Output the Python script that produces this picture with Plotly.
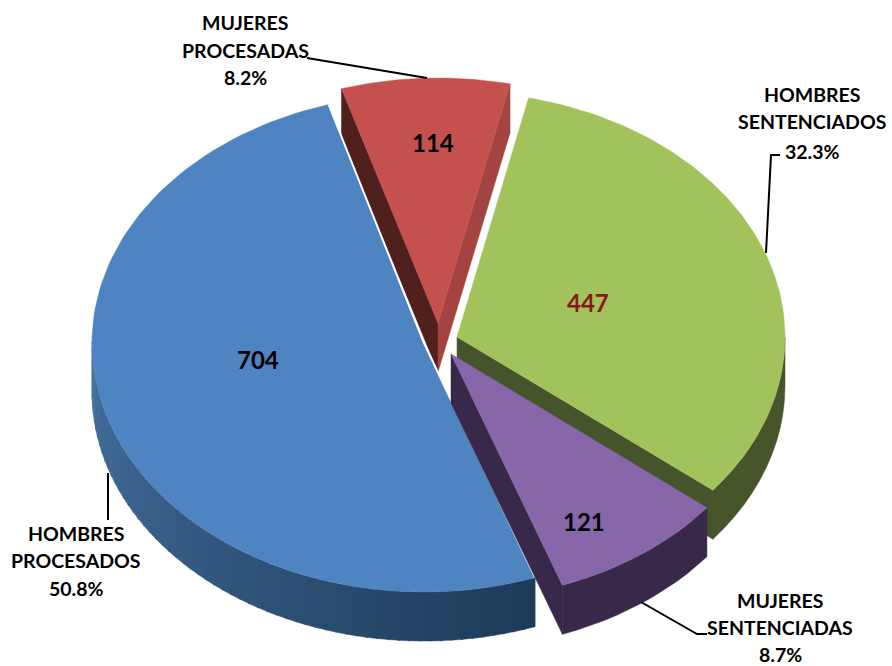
import math
import plotly.graph_objects as go

# --- data ---
categories = ["HOMBRES PROCESADOS", "MUJERES PROCESADAS", "HOMBRES SENTENCIADOS", "MUJERES SENTENCIADAS"]
values = [704, 114, 447, 121]
percent_labels = ["50.8%", "8.2%", "32.3%", "8.7%"]

# --- drawing style (pixel layout of the 3D-look exploded pie) ---
W, H = 892, 666
DEPTH = 49
START_BEARING = -17.0  # clockwise from "up": where the blue slice ends / red begins
face_colors = ["#4f84c3", "#c5514f", "#a2c35b", "#8866aa"]
centers = [(424, 343), (438, 323), (457, 337), (451, 354)]
radii = [(332, 249), (330, 245), (328, 245), (328, 246)]
bearing_shift = [0.3, 0.0, 0.0, 0.0]
draw_order = [2, 1, 0, 3]
value_pos = [(258, 359), (433, 142), (588, 302), (584, 521)]
value_color = ["#000000", "#000000", "#861a16", "#000000"]

total = sum(values)
order_cw = [1, 2, 3, 0]
spans = {}
b = START_BEARING
for i in order_cw:
    d = 360.0 * values[i] / total
    spans[i] = (b, b + d)
    b += d


def pt(i, phi, dz=0):
    cx, cy = centers[i]
    rx, ry = radii[i]
    a = math.radians(phi + bearing_shift[i])
    return cx + rx * math.sin(a), cy - ry * math.cos(a) + dz


def arc(i, p0, p1, dz=0, n=60):
    return [pt(i, p0 + (p1 - p0) * k / n, dz) for k in range(n + 1)]


fig = go.Figure()


def poly(points, color, name=""):
    xs = [p[0] for p in points] + [points[0][0]]
    ys = [p[1] for p in points] + [points[0][1]]
    fig.add_trace(go.Scatter(
        x=xs, y=ys, mode="lines", fill="toself", fillcolor=color,
        line=dict(color=color, width=0.5),
        hoverinfo="text", text=name, showlegend=False))


def mix(c0, c1, t):
    a = [int(c0[j:j + 2], 16) for j in (1, 3, 5)]
    c = [int(c1[j:j + 2], 16) for j in (1, 3, 5)]
    return "#%02x%02x%02x" % tuple(round(a[k] + (c[k] - a[k]) * t) for k in range(3))


def radial_wall(i, phi, color):
    c = centers[i]
    e = pt(i, phi)
    poly([c, (c[0], c[1] + DEPTH), (e[0], e[1] + DEPTH), e], color, name=categories[i])


def arc_wall(i, p0, p1, c0, c1, strips=1):
    for s in range(strips):
        a0 = p0 + (p1 - p0) * s / strips
        a1 = p0 + (p1 - p0) * (s + 1) / strips + (0.3 if s < strips - 1 else 0)
        top = arc(i, a0, a1, 0, 12)
        bot = arc(i, a0, a1, DEPTH, 12)
        col = mix(c0, c1, (s + 0.5) / strips)
        poly(top + bot[::-1], col, name=categories[i])


for i in draw_order:
    p0, p1 = spans[i]
    c = centers[i]
    if i == 2:  # green
        arc_wall(i, 90, p1, "#46552a", "#46552a")
        radial_wall(i, p1, "#45542a")
    elif i == 1:  # red
        radial_wall(i, p0, "#4f201e")
        radial_wall(i, p1, "#a44442")
    elif i == 0:  # blue
        arc_wall(i, p0, 270, "#1c3a58", "#45709f", strips=60)
    elif i == 3:  # purple
        radial_wall(i, p1, "#38294a")
        arc_wall(i, p0, p1, "#38294a", "#38294a")
    face = [c] + arc(i, p0, p1, 0, 120)
    poly(face, face_colors[i], name=f"{categories[i]}: {values[i]} ({percent_labels[i]})")
    if i == 0:  # white seam along the straight edges of the blue slice
        e0, e1 = pt(i, p0), pt(i, p1)
        fig.add_trace(go.Scatter(x=[e0[0], c[0], e1[0]], y=[e0[1], c[1], e1[1]], mode="lines",
                                 line=dict(color="#ffffff", width=2), hoverinfo="skip", showlegend=False))

# leader lines
leaders = [
    [(307, 58), (427, 78)],
    [(780, 155), (771, 155), (766, 253)],
    [(108, 473), (108, 520)],
    [(641, 602), (697, 634), (707, 634)],
]
for ln in leaders:
    fig.add_trace(go.Scatter(x=[p[0] for p in ln], y=[p[1] for p in ln], mode="lines",
                             line=dict(color="#000000", width=2), hoverinfo="skip", showlegend=False))

annotations = []
for i, (x, y) in enumerate(value_pos):
    annotations.append(dict(x=x, y=y, text=f"<b>{values[i]}</b>", showarrow=False,
                            font=dict(family="Lato", size=24, color=value_color[i])))

label_lines = [
    (76, [533, 560, 588], ["HOMBRES", "PROCESADOS", percent_labels[0]]),
    (245, [22, 50, 77], ["MUJERES", "PROCESADAS", percent_labels[1]]),
    (812, [94, 121, 151], ["HOMBRES", "SENTENCIADOS", percent_labels[2]]),
    (780, [600, 627, 654], ["MUJERES", "SENTENCIADAS", percent_labels[3]]),
]
for x, ys, lines in label_lines:
    for y, t in zip(ys, lines):
        annotations.append(dict(x=x, y=y, text=f"<b>{t}</b>", showarrow=False,
                                font=dict(family="Lato", size=19.5, color="#000000")))

fig.update_layout(
    width=W, height=H, margin=dict(l=0, r=0, t=0, b=0),
    paper_bgcolor="#ffffff", plot_bgcolor="#ffffff", showlegend=False,
    xaxis=dict(range=[0, W], visible=False, fixedrange=True),
    yaxis=dict(range=[H, 0], visible=False, fixedrange=True),
    annotations=annotations,
)
fig.write_html("out.html", config={"displayModeBar": False},
               post_script="document.body.style.margin='0';document.body.style.overflow='hidden';")
